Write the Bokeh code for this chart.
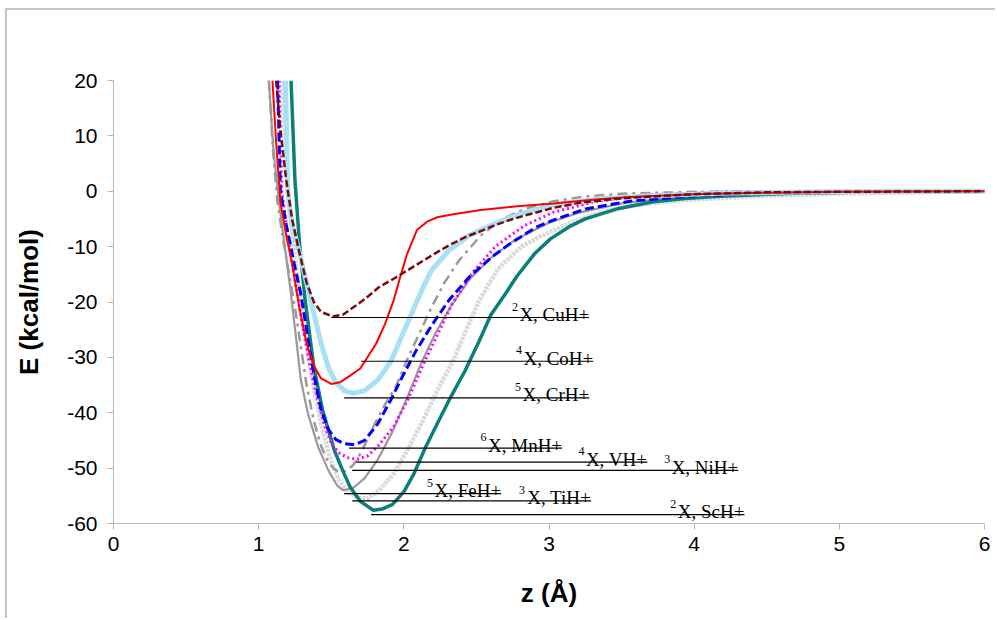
from bokeh.plotting import figure
from bokeh.models import Range1d, FixedTicker
from bokeh.core.properties import value
from bokeh.embed import file_html
from bokeh.resources import INLINE

# ---- data: potential energy curves E(z) ----
cu_x = [1.12, 1.15, 1.19, 1.23, 1.28, 1.33, 1.38, 1.43, 1.51, 1.58, 1.65, 1.73, 1.83, 1.93, 2.03, 2.13, 2.23, 2.33, 2.43, 2.53, 2.63, 2.73, 2.83, 2.93, 3.03, 3.23, 3.53, 4.03, 4.5, 5.0, 6.0]
cu_y = [20, 11, 2, -5, -11, -16.5, -20, -21.8, -22.6, -22.3, -21, -19.5, -17.3, -15.8, -14.2, -12.6, -11.0, -9.5, -8.2, -7.2, -6.1, -5.2, -4.4, -3.7, -3.0, -2.0, -1.2, -0.5, -0.2, -0.1, 0]

co_x = [1.095, 1.12, 1.15, 1.19, 1.23, 1.28, 1.33, 1.38, 1.43, 1.50, 1.56, 1.63, 1.70, 1.81, 1.87, 1.93, 1.975, 2.02, 2.09, 2.16, 2.23, 2.33, 2.53, 2.78, 3.03, 3.28, 3.53, 4.03, 4.5, 5.0, 6.0]
co_y = [20, 9, -2, -8, -13, -21, -27.5, -31.5, -33.8, -34.8, -34.5, -33.3, -32.0, -27.5, -24, -19.7, -15.5, -11.5, -7.0, -5.5, -4.7, -4.2, -3.4, -2.7, -2.2, -1.6, -1.1, -0.5, -0.25, -0.1, 0]

cr_x = [1.185, 1.20, 1.23, 1.28, 1.33, 1.38, 1.43, 1.48, 1.53, 1.59, 1.65, 1.73, 1.82, 1.91, 1.98, 2.03, 2.08, 2.13, 2.19, 2.31, 2.45, 2.61, 2.79, 3.03, 3.37, 3.72, 4.18, 4.63, 5.0, 5.5, 6.0]
cr_y = [20, 0, -6, -11, -16.5, -22, -27.5, -31.8, -34.5, -36, -36.5, -36, -34.1, -30.8, -26.5, -23.5, -20.5, -17.5, -14.3, -10.7, -8.0, -6.0, -4.2, -2.5, -1.3, -0.8, -0.35, -0.2, -0.1, -0.05, 0]

mn_x = [1.13, 1.15, 1.19, 1.24, 1.29, 1.33, 1.38, 1.43, 1.48, 1.53, 1.59, 1.66, 1.73, 1.82, 1.91, 1.98, 2.08, 2.19, 2.31, 2.45, 2.61, 2.73, 2.91, 3.03, 3.25, 3.58, 4.03, 4.5, 5.0, 6.0]
mn_y = [20, 0, -6, -12.5, -18.5, -25, -33, -39.5, -43, -44.8, -45.6, -45.8, -45, -42, -37.7, -34, -29, -24.3, -19.7, -15.5, -11.8, -9.5, -6.5, -5.2, -3.2, -1.7, -0.8, -0.4, -0.2, 0]

v_x = [1.14, 1.16, 1.20, 1.25, 1.30, 1.35, 1.40, 1.45, 1.50, 1.55, 1.61, 1.68, 1.75, 1.83, 1.93, 2.03, 2.13, 2.23, 2.33, 2.48, 2.63, 2.83, 3.03, 3.33, 3.73, 4.23, 5.0, 6.0]
v_y = [20, 0, -8, -16, -24, -31, -37, -42, -45.5, -47.2, -48.1, -48.4, -47.8, -45.8, -42.5, -37.5, -31.5, -26, -20.5, -14.5, -10, -6.2, -3.8, -1.8, -0.6, -0.1, 0, 0]

ni_x = [1.07, 1.10, 1.13, 1.17, 1.21, 1.25, 1.29, 1.33, 1.38, 1.43, 1.48, 1.53, 1.59, 1.65, 1.71, 1.78, 1.86, 1.95, 2.03, 2.11, 2.19, 2.28, 2.38, 2.53, 2.68, 2.83, 3.03, 3.23, 3.53, 4.03, 4.43]
ni_y = [20, 7, -2, -9, -15, -21, -28, -35, -41.5, -46, -49, -50.4, -50.6, -49.5, -47, -43, -39, -35, -30, -25.5, -21, -16.5, -12.5, -8, -5, -3.2, -1.8, -1.0, -0.4, -0.1, 0]

fe_x = [1.07, 1.10, 1.14, 1.18, 1.22, 1.26, 1.29, 1.34, 1.41, 1.48, 1.54, 1.58, 1.65, 1.73, 1.82, 1.92, 2.02, 2.12, 2.22, 2.33, 2.45, 2.60, 2.77, 3.00, 3.20, 3.50, 3.90, 4.40, 5.0, 6.0]
fe_y = [20, 8, -2, -10, -18, -27, -34, -40.2, -46.2, -50.4, -53.1, -54.0, -53.6, -51.8, -48.5, -43.5, -37.5, -31, -25.5, -20.5, -16, -12, -8.7, -5.7, -3.9, -2.2, -1.0, -0.35, -0.1, 0]

ti_x = [1.16, 1.20, 1.25, 1.31, 1.37, 1.43, 1.49, 1.55, 1.61, 1.68, 1.75, 1.83, 1.93, 2.03, 2.13, 2.23, 2.34, 2.43, 2.52, 2.65, 2.81, 2.93, 3.13, 3.37, 3.60, 3.93, 4.43, 5.0, 6.0]
ti_y = [20, 0, -12, -24, -34, -42, -48, -52, -54.3, -55.3, -55.5, -54, -51, -46.5, -41.5, -36, -30.6, -25, -19.7, -14, -10, -8.3, -5.9, -3.7, -2.5, -1.6, -0.9, -0.4, 0]

sc_x = [1.223, 1.25, 1.28, 1.32, 1.38, 1.44, 1.52, 1.58, 1.63, 1.70, 1.79, 1.85, 1.92, 2.00, 2.07, 2.146, 2.23, 2.32, 2.42, 2.52, 2.60, 2.70, 2.78, 2.90, 3.01, 3.14, 3.25, 3.48, 3.72, 3.94, 4.18, 4.63, 5.2, 6.0]
sc_y = [20, 2, -9, -19.7, -31.7, -39.5, -46.7, -50.5, -53.4, -56, -57.6, -57.4, -56.6, -54.3, -51, -46.4, -42, -37.3, -32.5, -27, -22.3, -18.5, -15.3, -11.3, -8.6, -6.4, -5.0, -3.1, -1.9, -1.3, -0.9, -0.4, -0.15, 0]

# ---- labelled reference levels ----
lab_spin = ["2", "4", "5", "6", "4", "3", "5", "3", "2"]
lab_name = ["X, CuH+", "X, CoH+", "X, CrH+", "X, MnH+", "X, VH+", "X, NiH+", "X, FeH+", "X, TiH+", "X, ScH+"]
lab_e = [-22.8, -30.7, -37.3, -46.4, -48.9, -50.4, -54.6, -55.9, -58.4]
lab_x0 = [1.50, 1.706, 1.589, 1.623, 1.671, 1.644, 1.589, 1.644, 1.775]
lab_x1 = [3.277, 3.305, 3.277, 3.09, 3.677, 4.304, 2.671, 3.29, 4.346]

x_ticks = [0, 1, 2, 3, 4, 5, 6]
y_ticks = [-60, -50, -40, -30, -20, -10, 0, 10, 20]

# Times/Liberation Serif advance widths (per 1000 em) to place the superscripts
TW = {'X': 722, ',': 250, ' ': 250, 'C': 667, 'u': 500, 'H': 722, '+': 564, 'o': 500, 'r': 333,
      'M': 889, 'n': 500, 'V': 722, 'N': 722, 'i': 278, 'F': 556, 'e': 444, 'T': 611, 'S': 556, 'c': 444}
LAB_FS = 19
def tw(s, fs):
    return sum(TW.get(ch, 500) for ch in s) * fs / 1000.0

p = figure(width=990, height=610, output_backend="svg", toolbar_location=None,
           x_range=Range1d(0, 6), y_range=Range1d(-60, 20),
           min_border_left=106, min_border_right=13, min_border_top=70, min_border_bottom=97)
p.margin = (8, 0, 0, 5)
p.styles = {"border-left": "2px solid #C4C4C4", "border-top": "2px solid #C4C4C4"}
p.outline_line_color = None
p.xgrid.visible = False
p.ygrid.visible = False
p.background_fill_color = "white"
p.border_fill_color = "white"

for ax, ticks in ((p.xaxis[0], x_ticks), (p.yaxis[0], y_ticks)):
    ax.ticker = FixedTicker(ticks=ticks)
    ax.major_label_overrides = {t: str(t) for t in ticks}
    ax.axis_line_color = "#B8B8B8"
    ax.major_tick_line_color = "#B8B8B8"
    ax.minor_tick_line_color = None
    ax.major_tick_in = 0
    ax.major_tick_out = 6
    ax.major_label_text_font = "Liberation Sans"
    ax.major_label_text_font_size = "21px"
    ax.major_label_text_color = "black"
    ax.axis_label_text_font = "Liberation Sans"
    ax.axis_label_text_font_size = "26px"
    ax.axis_label_text_font_style = "bold"
    ax.axis_label_text_color = "black"

p.xaxis.axis_label = "z (\u00c5)"
p.yaxis.axis_label = "E (kcal/mol)"
p.xaxis.major_label_standoff = 7
p.xaxis.axis_label_standoff = 24
p.yaxis.major_label_standoff = 10
p.yaxis.axis_label_standoff = 20

# curves
p.line(ti_x, ti_y, line_color="#DADADA", line_width=4.5, line_dash="3 1")
p.line(fe_x, fe_y, line_color="#9A9A9A", line_width=2.2)
p.line(ni_x, ni_y, line_color="#9A9A9A", line_width=2.5, line_dash="10 5 3 5")
p.line(sc_x, sc_y, line_color="#0B7F7A", line_width=3.5)
p.line(v_x, v_y, line_color="#FF00FF", line_width=3, line_dash="2 3")
p.line(mn_x, mn_y, line_color="#0000FF", line_width=3, line_dash="9 4")
p.line(cr_x, cr_y, line_color="#A6E1F7", line_width=5)
p.line(co_x, co_y, line_color="#FF0000", line_width=2)
p.line(cu_x, cu_y, line_color="#7B0A0A", line_width=2.5, line_dash="7 3")

# reference level lines + labels
p.segment(x0=lab_x0, y0=lab_e, x1=lab_x1, y1=lab_e, line_color="black", line_width=1.2)
p.text(x=lab_x1, y=lab_e, text=lab_name, text_align="right", text_baseline="alphabetic",
       y_offset=-3, text_font=value("Liberation Serif"), text_font_size=f"{LAB_FS}px", text_color="black")
sup_off = [-(tw(s, LAB_FS) + 1.5) for s in lab_name]
p.text(x=lab_x1, y=lab_e, text=lab_spin, x_offset=sup_off, text_align="right", text_baseline="alphabetic",
       y_offset=-11, text_font=value("Liberation Serif"), text_font_size="12px", text_color="black")

open("out.html", "w").write(file_html(p, INLINE))
